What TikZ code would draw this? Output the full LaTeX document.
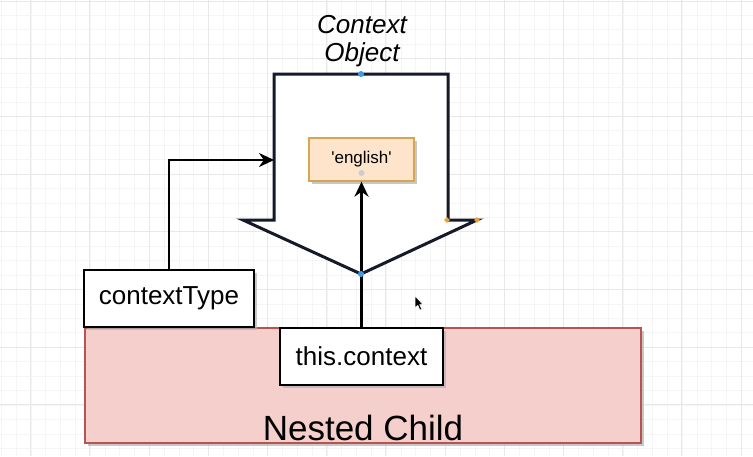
\documentclass[tikz,border=0pt]{standalone}
\usepackage{fontspec}
\setmainfont{Liberation Sans}
\usetikzlibrary{arrows.meta,shadows,shapes.geometric}
\definecolor{gridminor}{HTML}{F5F5F5}
\definecolor{gridmajor}{HTML}{E8E8E8}
\definecolor{childfill}{HTML}{F4CFCC}
\definecolor{childdraw}{HTML}{B85450}
\definecolor{engfill}{HTML}{FDE4CA}
\definecolor{engdraw}{HTML}{D6A650}
\definecolor{outlinec}{HTML}{15192A}
\definecolor{handleblue}{HTML}{3D9BEA}
\definecolor{handleorange}{HTML}{F0A030}
\begin{document}
\begin{tikzpicture}[x=1pt,y=-1pt,
  shad/.style={drop shadow={shadow xshift=2.5pt,shadow yshift=-2.5pt,fill=black!30,opacity=0.7}},
  box/.style={draw=black, line width=1.3pt, fill=white, inner sep=0pt, shad,
    font=\fontsize{26}{28}\selectfont},
  conn/.style={line width=2.8pt, -{Stealth[length=15pt,width=14pt]}},
  bigarrow/.style={draw=outlinec, line width=3pt, fill=white, line join=miter},
  handle/.style={circle, inner sep=0pt, minimum size=6pt, fill=handleblue, draw=none},
  ohandle/.style={diamond, inner sep=0pt, minimum size=6pt, fill=handleorange, draw=none}]
\useasboundingbox (0,0) rectangle (753,456);
\fill[white] (0,0) rectangle (753,456);
% grid
\foreach \i in {0,...,52} {
  \draw[gridminor, line width=0.8pt] ({1.45+14.8*\i},0) -- ({1.45+14.8*\i},456);
}
\foreach \j in {0,...,31} {
  \draw[gridminor, line width=0.8pt] (0,{1+14.43*\j}) -- (753,{1+14.43*\j});
}
\foreach \i in {0,...,12} {
  \draw[gridmajor, line width=1pt] ({30.7+59.2*\i},0) -- ({30.7+59.2*\i},456);
}
\foreach \j in {0,...,7} {
  \draw[gridmajor, line width=1pt] (0,{1+57.7*\j}) -- (753,{1+57.7*\j});
}
% nested child
\node[draw=childdraw, fill=childfill, line width=1.3pt, minimum width=556pt, minimum height=115pt,
  inner sep=0pt, shad] (nested) at (363,385.5) {};
\node[font=\fontsize{35}{38}\selectfont] (nestedlabel) at (363,427.5) {Nested Child};
% big arrow (context object)
\draw[bigarrow] (274,74) coordinate (atopl) -- (448,74) coordinate (atopr)
  -- (448,220) -- (477,220) coordinate (awingr)
  -- (361,274) coordinate (atip)
  -- (243,220) coordinate (awingl) -- (274,220) -- cycle;
\coordinate (aleft) at (274,160);
\node[font=\itshape\fontsize{26}{28}\selectfont, align=center] (ctxlabel) at (362,41) {Context\\Object};
% english
\node[draw=engdraw, fill=engfill, line width=1.3pt, minimum width=105pt, minimum height=43pt,
  inner sep=0pt, shad, font=\fontsize{17}{19}\selectfont] (english) at (361.5,159.5)
  {\textquotesingle english\textquotesingle};
% boxes
\node[box, minimum width=170pt, minimum height=57pt] (ctype) at (169,298.5) {\raisebox{-3pt}{contextType}};
\node[box, minimum width=163pt, minimum height=57pt] (thisctx) at (361.5,356.5) {\raisebox{-2pt}{this.context}};
% connectors
\coordinate (bend) at (ctype.north |- aleft);
\draw[conn] (ctype.north) -- (bend) -- (aleft);
\draw[conn] (thisctx.north) -- (english.south);
% handles
\node[handle] (h1) at (atopl -| atip) {};
\node[handle] (h2) at (atip) {};
\node[ohandle] (h3) at (447,220) {};
\node[ohandle] (h4) at (awingr) {};
\node[circle, inner sep=0pt, minimum size=6pt, fill=black!20] (h5) at (361.5,173) {};
% mouse pointer
\filldraw[fill=black, draw=white, line width=0.5pt] (415,296) -- (415,308) -- (417.8,305.3)
  -- (420,310) -- (421.8,309.2) -- (419.6,304.6) -- (423,304.6) -- cycle;
\end{tikzpicture}
\end{document}
